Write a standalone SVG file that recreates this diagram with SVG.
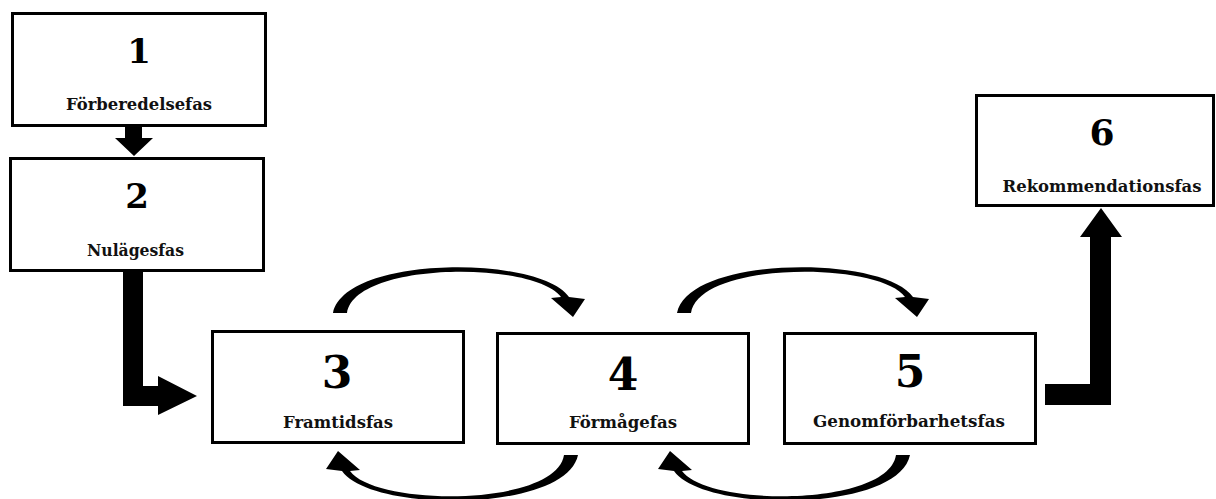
<svg xmlns="http://www.w3.org/2000/svg" width="1216" height="499" viewBox="0 0 1216 499">
<style>
.box{fill:#fff;stroke:#000;stroke-width:3}
.num{font-family:"DejaVu Serif","Liberation Serif",serif;font-weight:bold;fill:#000;text-anchor:middle}
.lbl{font-family:"DejaVu Serif","Liberation Serif",serif;font-weight:bold;font-size:16px;fill:#111;text-anchor:middle}
.arr{fill:#000;stroke:none}
</style>
<defs>
<path id="arcTop" d="M333,313 C345,255 540,255 569,297 L585,299 L573,317 L551,298 L561,297 C535,261 355,261 347,313 Z"/>
</defs>
<rect width="1216" height="499" fill="#fff"/>
<g id="connectors" class="arr">
<polygon points="125,127 142,127 142,138 153,138 134,156 115,138 125,138"/>
<polygon points="123,272 143,272 143,386 158,386 158,376 197,396 158,415 158,406 123,406"/>
<polygon points="1045,384 1090,384 1090,237 1080,237 1101,208 1122,237 1111,237 1111,405 1045,405"/>
<use href="#arcTop"/>
<use href="#arcTop" transform="translate(344,0)"/>
<use href="#arcTop" transform="rotate(180,455.5,384)"/>
<use href="#arcTop" transform="translate(332,0) rotate(180,455.5,384)"/>
</g>
<g id="node1">
<rect class="box" x="12.5" y="13.5" width="253" height="112"/>
<text class="num" x="139" y="63" font-size="34">1</text>
<text class="lbl" x="139" y="110" textLength="146" lengthAdjust="spacingAndGlyphs">Förberedelsefas</text>
</g>
<g id="node2">
<rect class="box" x="10.5" y="158.5" width="253" height="112"/>
<text class="num" x="137" y="208" font-size="34">2</text>
<text class="lbl" x="135.5" y="256" textLength="97" lengthAdjust="spacingAndGlyphs">Nulägesfas</text>
</g>
<g id="node3">
<rect class="box" x="212.5" y="331.5" width="251" height="111"/>
<text class="num" x="337" y="388" font-size="44">3</text>
<text class="lbl" x="338" y="428" textLength="110" lengthAdjust="spacingAndGlyphs">Framtidsfas</text>
</g>
<g id="node4">
<rect class="box" x="497.5" y="333.5" width="251" height="110"/>
<text class="num" x="623" y="390" font-size="44">4</text>
<text class="lbl" x="623" y="428" textLength="108" lengthAdjust="spacingAndGlyphs">Förmågefas</text>
</g>
<g id="node5">
<rect class="box" x="784.5" y="333.5" width="251" height="110"/>
<text class="num" x="910" y="387" font-size="44">5</text>
<text class="lbl" x="909" y="427" textLength="192" lengthAdjust="spacingAndGlyphs">Genomförbarhetsfas</text>
</g>
<g id="node6">
<rect class="box" x="976.5" y="95.5" width="237" height="110"/>
<text class="num" x="1102" y="145" font-size="36">6</text>
<text class="lbl" x="1102" y="192" textLength="199" lengthAdjust="spacingAndGlyphs">Rekommendationsfas</text>
</g>
</svg>
